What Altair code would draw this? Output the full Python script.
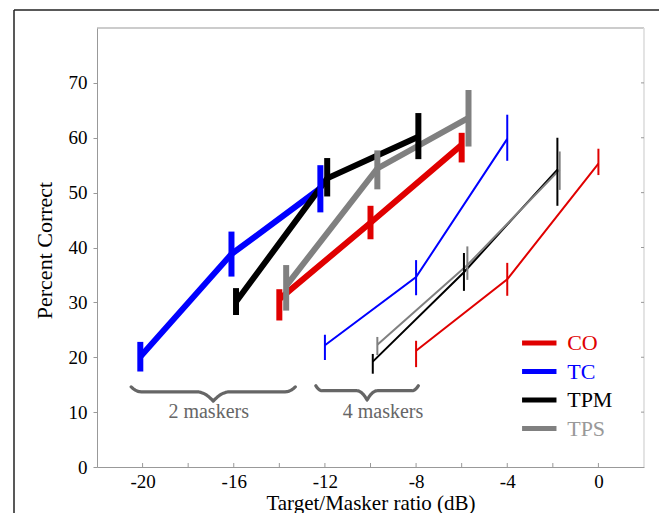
import altair as alt
import pandas as pd
import numpy as np

FONT = "Liberation Serif"

series = ["CO", "TC", "TPM", "TPS"]
line_colors = ["#e00000", "#0000ff", "#000000", "#808080"]
text_colors = ["#e00000", "#0000ff", "#000000", "#999999"]

# ---- 2 maskers (thick lines) ----
co2_x = [-14.0, -10.0, -6.0]
co2_y = [30.6, 44.5, 58.7]
co2_lo = [26.7, 41.5, 55.5]
co2_hi = [32.4, 47.6, 60.9]

tc2_x = [-20.1, -16.1, -12.2]
tc2_y = [20.1, 38.8, 50.8]
tc2_lo = [17.4, 34.7, 46.4]
tc2_hi = [22.8, 42.9, 55.0]

tpm2_x = [-15.9, -11.9, -7.9]
tpm2_y = [30.1, 52.6, 60.2]
tpm2_lo = [27.7, 49.3, 56.1]
tpm2_hi = [32.6, 56.3, 64.5]

tps2_x = [-13.7, -9.7, -5.7]
tps2_y = [33.0, 54.4, 63.6]
tps2_lo = [28.5, 50.6, 58.4]
tps2_hi = [36.8, 57.7, 68.7]

# ---- 4 maskers (thin lines) ----
co4_x = [-8.0, -4.0, 0.0]
co4_y = [21.2, 34.2, 55.3]
co4_lo = [18.2, 31.2, 53.2]
co4_hi = [23.0, 37.2, 58.0]

tc4_x = [-12.0, -8.0, -4.0]
tc4_y = [22.2, 34.6, 59.8]
tc4_lo = [19.5, 31.3, 55.8]
tc4_hi = [24.1, 37.7, 64.2]

tpm4_x = [-9.9, -5.9, -1.8]
tpm4_y = [19.2, 35.5, 54.2]
tpm4_lo = [17.0, 32.1, 47.6]
tpm4_hi = [20.6, 39.0, 60.0]

tps4_x = [-9.7, -5.75, -1.7]
tps4_y = [22.3, 36.8, 54.2]
tps4_lo = [20.4, 34.1, 50.5]
tps4_hi = [23.7, 40.2, 57.5]

x_ticks = [-20, -18, -16, -14, -12, -10, -8, -6, -4, -2, 0]
y_ticks = [0, 10, 20, 30, 40, 50, 60, 70]

group_labels = ["2 maskers", "4 maskers"]
group_label_x = [-17.1, -9.45]
group_label_y = [10.0, 10.0]
brace_x0 = [-20.5, -12.4]
brace_x1 = [-13.3, -7.9]
brace_tip_y = [14.6, 14.8]

rows = []
sets = [
    ("CO", "2", co2_x, co2_y, co2_lo, co2_hi),
    ("TC", "2", tc2_x, tc2_y, tc2_lo, tc2_hi),
    ("TPM", "2", tpm2_x, tpm2_y, tpm2_lo, tpm2_hi),
    ("TPS", "2", tps2_x, tps2_y, tps2_lo, tps2_hi),
    ("CO", "4", co4_x, co4_y, co4_lo, co4_hi),
    ("TC", "4", tc4_x, tc4_y, tc4_lo, tc4_hi),
    ("TPM", "4", tpm4_x, tpm4_y, tpm4_lo, tpm4_hi),
    ("TPS", "4", tps4_x, tps4_y, tps4_lo, tps4_hi),
]
for s, g, xs_, ys_, los, his in sets:
    for i, (a, b, c, d) in enumerate(zip(xs_, ys_, los, his)):
        rows.append(dict(series=s, group=g, key=s + g, order=i, x=a, y=b, lo=c, hi=d))
df = pd.DataFrame(rows)

# brace decoration shape
brows = []
for k in range(2):
    for t in np.linspace(0, 1, 81):
        d = min(t, 1 - t) * 2
        yy = brace_tip_y[k] - 0.9 * (1 - (1 - min(d / 0.12, 1)) ** 2) - 1.7 * (max(0.0, (d - 0.8) / 0.2)) ** 2
        brows.append(dict(b=k, t=t, x=brace_x0[k] + (brace_x1[k] - brace_x0[k]) * t, y=yy))
bdf = pd.DataFrame(brows)

ldf = pd.DataFrame(dict(label=group_labels, x=group_label_x, y=group_label_y))

leg = pd.DataFrame(dict(series=series, idx=list(range(4))))
leg["y"] = 22.6 - 5.2 * leg["idx"]
leg["x0"] = -3.35
leg["x1"] = -1.84
leg["xt"] = -1.37

W, H = 547, 439
PR, PB = 15, 46
xs = alt.Scale(domain=[-22, 2], nice=False, zero=False)
ys = alt.Scale(domain=[0, 80], nice=False)
cs = alt.Scale(domain=series, range=line_colors)
ws_line = alt.Scale(domain=["2", "4"], range=[6, 2])
ws_bar = alt.Scale(domain=["2", "4"], range=[7, 2])

xax = alt.Axis(values=x_ticks,
               labelExpr="datum.value % 4 == 0 ? replace(datum.label, '\u2212', '-') : ''",
               ticks=False, grid=False, title="Target/Masker ratio (dB)",
               labelFontSize=19, labelPadding=5, titleFontSize=21, titleFontWeight="normal",
               titleY=36, titleBaseline="middle",
               labelFont=FONT, titleFont=FONT, labelColor="#000", titleColor="#000",
               domainColor="#999999")
yax = alt.Axis(values=y_ticks, tickSize=4, grid=False, title="Percent Correct",
               labelFontSize=19, labelPadding=6, titleFontSize=22, titleFontWeight="normal",
               titleX=-53, titleY=222, titleBaseline="middle",
               labelFont=FONT, titleFont=FONT, labelColor="#000", titleColor="#000",
               domainColor="#999999", tickColor="#999999")

base = alt.Chart(df)
one = pd.DataFrame({"a": [0]})

frame_top = alt.Chart(one).mark_rule(color="#222", strokeWidth=1.5).encode(
    x=alt.value(-83), x2=alt.value(W + PR), y=alt.value(-18))
frame_left = alt.Chart(one).mark_rule(color="#222", strokeWidth=1.5).encode(
    x=alt.value(-83), y=alt.value(-18), y2=alt.value(H + PB))

top_border = alt.Chart(one).mark_rule(color="#999999", strokeWidth=1.2).encode(
    x=alt.value(0), x2=alt.value(W), y=alt.value(0))
right_border = alt.Chart(one).mark_rule(color="#dddddd", strokeWidth=1.6).encode(
    x=alt.value(W), y=alt.value(0), y2=alt.value(H))

xt = alt.Chart(pd.DataFrame({"v": x_ticks})).mark_rule(color="#999999", strokeWidth=1).encode(
    x=alt.X("v:Q", scale=xs, axis=xax), y=alt.value(H), y2=alt.value(H - 4))
yt = alt.Chart(pd.DataFrame({"v": y_ticks[1:]})).mark_rule(color="#999999", strokeWidth=1).encode(
    y=alt.Y("v:Q", scale=ys, axis=yax), x=alt.value(W), x2=alt.value(W - 3))

braces = alt.Chart(bdf).mark_line(strokeWidth=3.2, strokeCap="round", strokeJoin="round").encode(
    x=alt.X("x:Q", scale=xs), y=alt.Y("y:Q", scale=ys), detail="b:N", order="t:Q",
    color=alt.value("#666666"))
blabels = alt.Chart(ldf).mark_text(font=FONT, fontSize=20, color="#666666", baseline="middle").encode(
    x=alt.X("x:Q", scale=xs), y=alt.Y("y:Q", scale=ys), text="label:N")

lines = base.mark_line(strokeCap="butt", strokeJoin="miter").encode(
    x=alt.X("x:Q", scale=xs), y=alt.Y("y:Q", scale=ys),
    color=alt.Color("series:N", scale=cs, legend=None),
    strokeWidth=alt.StrokeWidth("group:N", scale=ws_line, legend=None),
    detail="key:N", order="order:Q")
bars = base.mark_rule(strokeCap="butt").encode(
    x=alt.X("x:Q", scale=xs), y=alt.Y("lo:Q", scale=ys), y2="hi:Q",
    color=alt.Color("series:N", scale=cs, legend=None),
    strokeWidth=alt.StrokeWidth("group:N", scale=ws_bar, legend=None))

leg_lines = alt.Chart(leg).mark_rule(strokeWidth=5).encode(
    x=alt.X("x0:Q", scale=xs), x2="x1:Q", y=alt.Y("y:Q", scale=ys),
    color=alt.Color("series:N", scale=cs, legend=None))
leg_text = alt.Chart(leg).mark_text(font=FONT, fontSize=22, align="left", baseline="middle").encode(
    x=alt.X("xt:Q", scale=xs), y=alt.Y("y:Q", scale=ys), text="series:N",
    fill=alt.Fill("series:N", scale=alt.Scale(domain=series, range=text_colors), legend=None))

chart = alt.layer(frame_top, frame_left, top_border, right_border, xt, yt, braces, blabels,
                  lines, bars, leg_lines, leg_text).properties(
    width=W, height=H,
    background="white",
    autosize=alt.AutoSizeParams(type="none"),
    padding={"left": 89, "top": 20, "right": PR, "bottom": PB},
).configure_view(stroke=None)

chart.save("out.html", embed_options={"renderer": "svg", "actions": False})
